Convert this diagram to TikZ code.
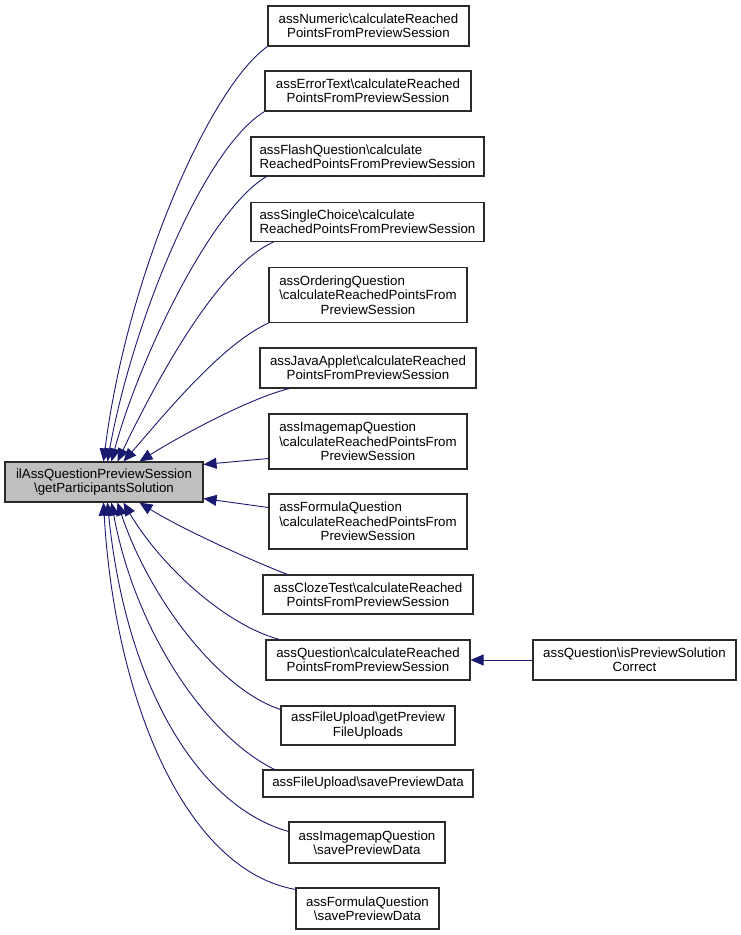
\documentclass[tikz,border=0pt]{standalone}
\usepackage{fontspec}
\setmainfont{Liberation Sans}
\usetikzlibrary{arrows.meta,calc}
\newcommand{\firstleft}[2]{\rlap{#1}\phantom{#2}}
\newcommand{\bs}{\textbackslash}
\definecolor{edgeblue}{HTML}{191970}
\definecolor{boxline}{HTML}{2A2A2A}
\definecolor{mainfill}{HTML}{BFBFBF}
\tikzset{
  box/.style={draw=boxline, line width=1.1pt, fill=white, rectangle, align=center,
    inner sep=0pt, font=\fontsize{13.3}{14.3}\selectfont},
  mainbox/.style={box, fill=mainfill},
  edge/.style={draw=edgeblue, line width=0.9pt, {Triangle[length=13pt,width=11pt]}-}
}
\begin{document}
\begin{tikzpicture}[x=1pt,y=-1pt]
\useasboundingbox (0,0) rectangle (741,935);
\node[mainbox, minimum width=198pt, minimum height=40pt] (m) at (104,482)
  {ilAssQuestionPreviewSession\\\bs getParticipantsSolution};
\node[box, minimum width=201pt, minimum height=40pt] (numeric) at (368.5,26)
  {assNumeric\bs calculateReached\\PointsFromPreviewSession};
\node[box, minimum width=206pt, minimum height=40pt] (errtext) at (368,91)
  {assErrorText\bs calculateReached\\PointsFromPreviewSession};
\node[box, minimum width=233pt, minimum height=39pt] (flash) at (367.5,156.5)
  {\firstleft{assFlashQuestion\bs calculate}{ReachedPointsFromPreviewSession}\\ReachedPointsFromPreviewSession};
\node[box, minimum width=233pt, minimum height=39pt] (single) at (367.5,222)
  {\firstleft{assSingleChoice\bs calculate}{ReachedPointsFromPreviewSession}\\ReachedPointsFromPreviewSession};
\node[box, minimum width=198pt, minimum height=55pt] (ordering) at (368,295)
  {\firstleft{assOrderingQuestion}{\bs calculateReachedPointsFrom}\\\bs calculateReachedPointsFrom\\PreviewSession};
\node[box, minimum width=216pt, minimum height=40pt] (java) at (368,368)
  {assJavaApplet\bs calculateReached\\PointsFromPreviewSession};
\node[box, minimum width=198pt, minimum height=55pt] (imgcalc) at (368,441.5)
  {\firstleft{assImagemapQuestion}{\bs calculateReachedPointsFrom}\\\bs calculateReachedPointsFrom\\PreviewSession};
\node[box, minimum width=198pt, minimum height=55pt] (formcalc) at (368,521.5)
  {\firstleft{assFormulaQuestion}{\bs calculateReachedPointsFrom}\\\bs calculateReachedPointsFrom\\PreviewSession};
\node[box, minimum width=210pt, minimum height=39pt] (cloze) at (368,594.5)
  {assClozeTest\bs calculateReached\\PointsFromPreviewSession};
\node[box, minimum width=204pt, minimum height=40pt] (qcalc) at (368,660)
  {assQuestion\bs calculateReached\\PointsFromPreviewSession};
\node[box, minimum width=174pt, minimum height=39pt] (fuget) at (368,725.5)
  {assFileUpload\bs getPreview\\FileUploads};
\node[box, minimum width=210pt, minimum height=27pt] (fusave) at (368,783.5)
  {assFileUpload\bs savePreviewData};
\node[box, minimum width=156pt, minimum height=41pt] (imgsave) at (367,842.5)
  {assImagemapQuestion\\\bs savePreviewData};
\node[box, minimum width=143pt, minimum height=41pt] (formsave) at (367.5,908.5)
  {assFormulaQuestion\\\bs savePreviewData};
\node[box, minimum width=203pt, minimum height=40pt] (preview) at (634.5,660)
  {assQuestion\bs isPreviewSolution\\Correct};
% edges into the top of the main box
\draw[edge] ($(m.north west)+(99,0)$) .. controls (128,270) and (212,85) .. (numeric.south west);
\draw[edge] ($(m.north west)+(103,0)$) .. controls (132,325) and (202,150) .. (errtext.south west);
\draw[edge] ($(m.north west)+(107,0)$) .. controls (138,362) and (210,210) .. ($(flash.south west)+(16,0)$);
\draw[edge] ($(m.north west)+(113,0)$) .. controls (152,390) and (215,268) .. ($(single.south west)+(23,0)$);
\draw[edge] ($(m.north west)+(119,0)$) .. controls (160,420) and (220,345) .. (ordering.south west);
\draw[edge] ($(m.north west)+(135,0)$) .. controls (180,436) and (250,398) .. ($(java.south west)+(30,0)$);
% side edges
\draw[edge] ($(m.north east)+(0,3)$) -- ($(imgcalc.west)+(0,17)$);
\draw[edge] ($(m.south east)+(0,-4)$) -- ($(formcalc.west)+(0,-14)$);
% edges into the bottom of the main box
\draw[edge] ($(m.south west)+(135,0)$) .. controls (180,528) and (250,560) .. ($(cloze.north west)+(25,0)$);
\draw[edge] ($(m.south west)+(119,0)$) .. controls (160,565) and (225,625) .. ($(qcalc.north west)+(14,0)$);
\draw[edge] ($(m.south west)+(113,0)$) .. controls (150,600) and (220,690) .. ($(fuget.north west)+(0,4)$);
\draw[edge] ($(m.south west)+(107,0)$) .. controls (135,630) and (205,735) .. ($(fusave.north west)+(12,0)$);
\draw[edge] ($(m.south west)+(103,0)$) .. controls (125,680) and (195,805) .. ($(imgsave.north west)+(0,10)$);
\draw[edge] ($(m.south west)+(99,0)$) .. controls (115,700) and (185,870) .. ($(formsave.north west)+(0,2)$);
% right edge
\draw[edge] (qcalc.east) -- (preview.west);
\end{tikzpicture}
\end{document}
